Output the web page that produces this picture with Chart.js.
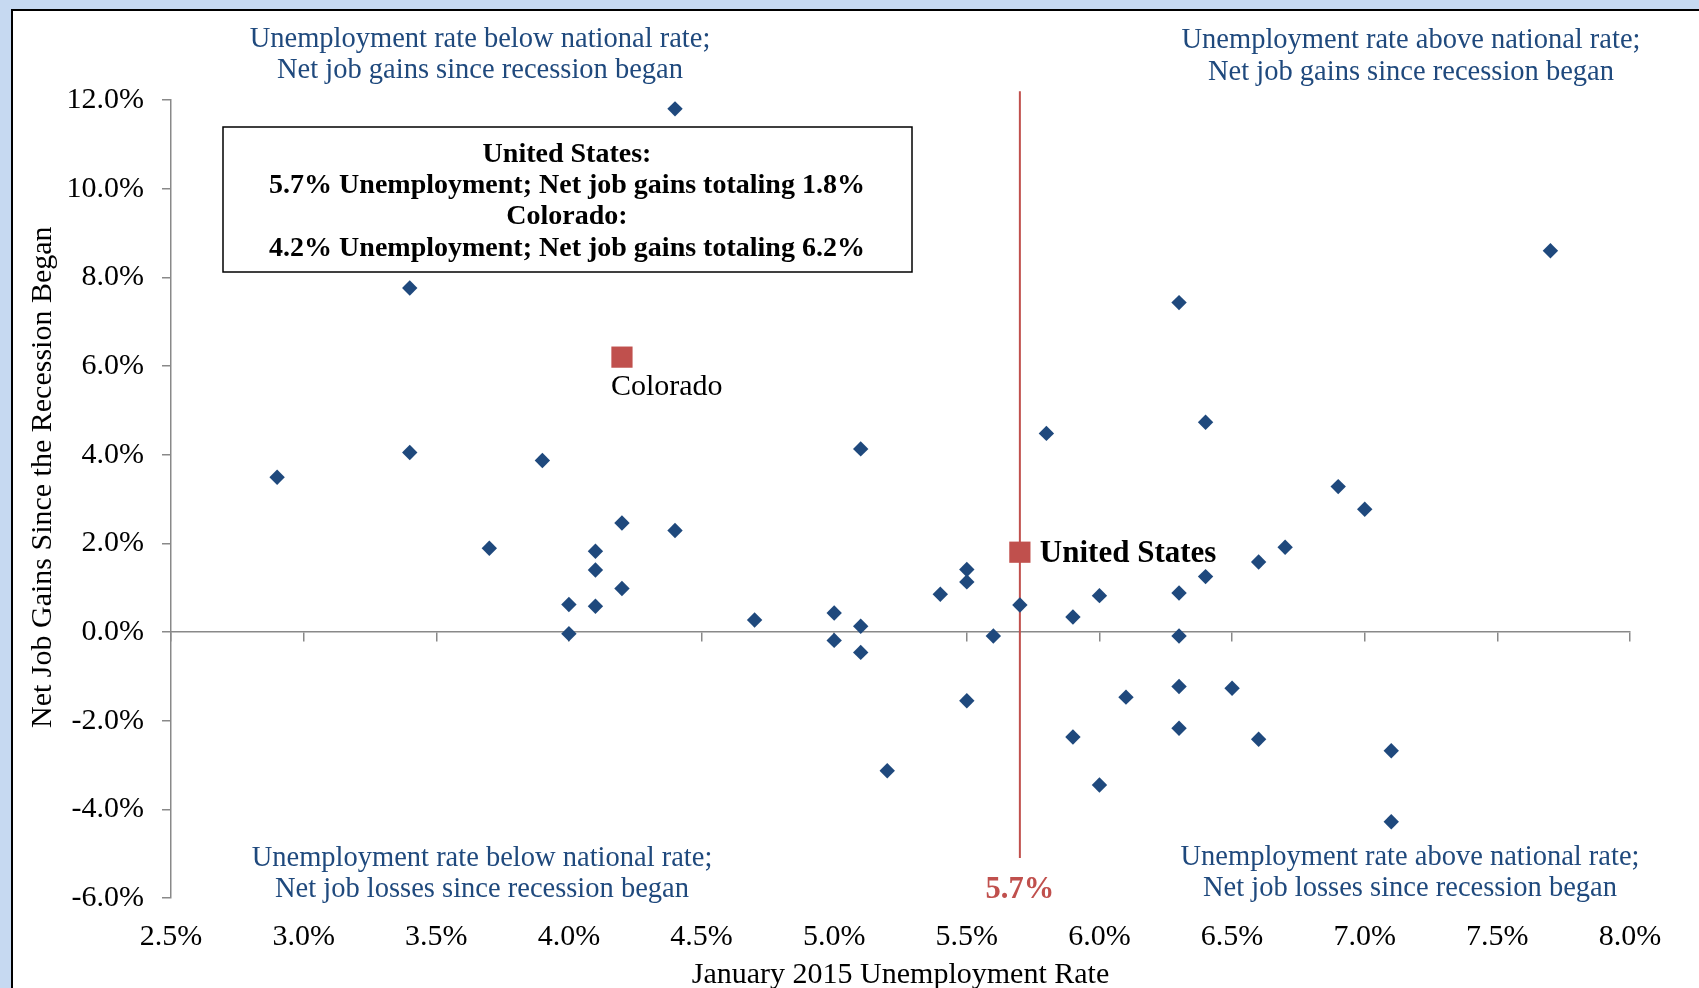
<!DOCTYPE html>
<html>
<head>
<meta charset="utf-8">
<script src="https://cdn.jsdelivr.net/npm/chart.js@4.4.1/dist/chart.umd.min.js"></script>
<style>
  html, body { margin: 0; padding: 0; width: 1699px; height: 988px; overflow: hidden; background: #c6d9f1; }
  #panel { position: absolute; left: 11px; top: 9px; width: 1700px; height: 990px; background: #ffffff;
           border-left: 2px solid #000000; border-top: 2px solid #000000; }
  #chart { position: absolute; left: 0; top: 0; }
</style>
</head>
<body>
<div id="panel"></div>
<canvas id="chart" width="1699" height="988"></canvas>
<script>
// January 2015 unemployment rate (%) and net job change since the recession began (%), by state
const stateUnemployment = [4.4, 7.7, 3.4, 6.3, 6.4, 5.8, 5.1, 3.4, 3.9, 2.9, 6.9, 7.0, 4.2, 4.4, 3.7, 6.7, 4.1,
                           6.6, 4.1, 5.5, 6.4, 5.5, 4.2, 6.3, 5.4, 6.0, 4.0, 4.1, 5.7, 5.0, 5.9, 4.7, 5.1, 4.0,
                           5.6, 6.3, 5.0, 5.1, 6.1, 6.3, 6.5, 5.5, 6.3, 5.9, 6.6, 7.1, 5.2, 6.0, 7.1];
const stateJobGains = [11.8, 8.6, 7.76, 7.43, 4.73, 4.48, 4.13, 4.05, 3.87, 3.49, 3.28, 2.77, 2.46, 2.29, 1.89,
                       1.91, 1.82, 1.58, 1.40, 1.41, 1.25, 1.13, 0.98, 0.88, 0.85, 0.82, 0.62, 0.58, 0.61, 0.43,
                       0.34, 0.27, 0.13, -0.04, -0.09, -0.09, -0.19, -0.46, -1.47, -1.23, -1.27, -1.55, -2.17,
                       -2.37, -2.42, -2.68, -3.13, -3.45, -4.28];

// Highlighted points: [unemployment, job gains]
const unitedStates = [5.7, 1.8];
const colorado = [4.2, 6.2];

// National-rate reference line: extent on the job-gains axis
const nationalLineSpan = [12.2, -5.1];

// Axis ranges and tick spacing
const xRange = [2.5, 8.0];
const xStep = 0.5;
const yRange = [-6.0, 12.0];
const yStep = 2.0;

const BLUE = '#1f497d';
const RED = '#c0504d';
const AXIS_GRAY = '#898989';
const SERIF = "'Liberation Serif', 'Times New Roman', serif";

const pct = v => Number(v).toFixed(1) + '%';

const quadrantNotes = [
  { lines: ['Unemployment rate below national rate;', 'Net job gains since recession began'], x: 480, y: [47, 78] },
  { lines: ['Unemployment rate above national rate;', 'Net job gains since recession began'], x: 1411, y: [48, 80] },
  { lines: ['Unemployment rate below national rate;', 'Net job losses since recession began'], x: 482, y: [866, 897] },
  { lines: ['Unemployment rate above national rate;', 'Net job losses since recession began'], x: 1410, y: [865, 896] }
];

const summaryLines = [
  'United States:',
  pct(unitedStates[0]) + ' Unemployment; Net job gains totaling ' + pct(unitedStates[1]),
  'Colorado:',
  pct(colorado[0]) + ' Unemployment; Net job gains totaling ' + pct(colorado[1])
];

// Text annotations: quadrant notes, summary box and point labels
const annotationPlugin = {
  id: 'annotations',
  afterDraw(chart) {
    const { ctx, scales } = chart;
    const x = scales.x, y = scales.y;
    ctx.save();
    ctx.textBaseline = 'alphabetic';

    ctx.fillStyle = BLUE;
    ctx.textAlign = 'center';
    ctx.font = '28.5px ' + SERIF;
    quadrantNotes.forEach(n => n.lines.forEach((t, i) => ctx.fillText(t, n.x, n.y[i])));

    // summary box
    ctx.fillStyle = '#ffffff';
    ctx.fillRect(223, 127, 689, 145);
    ctx.strokeStyle = '#000000';
    ctx.lineWidth = 1.5;
    ctx.strokeRect(223, 127, 689, 145);
    ctx.fillStyle = '#000000';
    ctx.font = 'bold 28px ' + SERIF;
    const boxBase = [162, 193, 224, 256];
    summaryLines.forEach((t, i) => ctx.fillText(t, 567, boxBase[i]));

    // point labels
    const usX = x.getPixelForValue(unitedStates[0]);
    const usY = y.getPixelForValue(unitedStates[1]);
    ctx.textAlign = 'left';
    ctx.font = 'bold 31px ' + SERIF;
    ctx.fillText('United States', usX + 20, usY + 10);

    const coX = x.getPixelForValue(colorado[0]);
    const coY = y.getPixelForValue(colorado[1]);
    ctx.font = '30px ' + SERIF;
    ctx.fillText('Colorado', coX - 11, coY + 38);

    ctx.textAlign = 'center';
    ctx.fillStyle = RED;
    ctx.font = 'bold 30.5px ' + SERIF;
    ctx.fillText(pct(unitedStates[0]), usX, 898);
    ctx.restore();
  }
};

new Chart(document.getElementById('chart'), {
  type: 'scatter',
  data: {
    datasets: [
      {
        label: 'National rate',
        type: 'line',
        data: nationalLineSpan.map(v => ({ x: unitedStates[0], y: v })),
        borderColor: RED,
        borderWidth: 2,
        pointRadius: 0,
        clip: false,
        order: 3
      },
      {
        label: 'States',
        data: stateUnemployment.map((u, i) => ({ x: u, y: stateJobGains[i] })),
        pointStyle: 'rectRot',
        pointRadius: 7.7,
        pointHoverRadius: 7.7,
        backgroundColor: BLUE,
        borderColor: BLUE,
        borderWidth: 0,
        order: 2
      },
      {
        label: 'United States / Colorado',
        data: [{ x: unitedStates[0], y: unitedStates[1] }, { x: colorado[0], y: colorado[1] }],
        pointStyle: 'rect',
        pointRadius: 15,
        pointHoverRadius: 15,
        backgroundColor: RED,
        borderColor: RED,
        borderWidth: 0,
        order: 1
      }
    ]
  },
  options: {
    responsive: false,
    devicePixelRatio: 1,
    animation: false,
    events: [],
    layout: { padding: { top: 100, right: 69, left: 0, bottom: 0 } },
    plugins: { legend: { display: false }, tooltip: { enabled: false } },
    scales: {
      x: {
        type: 'linear',
        position: 'bottom',
        min: xRange[0], max: xRange[1],
        grid: { display: false },
        border: { display: false },
        ticks: {
          stepSize: xStep,
          padding: 13,
          color: '#000000',
          font: { family: SERIF, size: 30 },
          callback: v => pct(v)
        },
        title: {
          display: true,
          text: 'January 2015 Unemployment Rate',
          color: '#000000',
          font: { family: SERIF, size: 30, lineHeight: 0.8 },
          padding: { top: 0, bottom: 1 }
        },
        afterFit(scale) { scale.height = 90; scale.paddingLeft = 0; scale.paddingRight = 0; }
      },
      xZero: {
        type: 'linear',
        axis: 'x',
        position: { y: 0 },
        min: xRange[0], max: xRange[1],
        grid: { drawOnChartArea: false, drawTicks: true, tickLength: 9, color: AXIS_GRAY, lineWidth: 1.5 },
        border: { display: true, color: AXIS_GRAY, width: 1.5 },
        ticks: { stepSize: xStep, display: false },
        afterFit(scale) { scale.paddingLeft = 0; scale.paddingRight = 0; }
      },
      y: {
        type: 'linear',
        position: 'left',
        min: yRange[0], max: yRange[1],
        grid: { drawOnChartArea: false, drawTicks: true, tickLength: 9, color: AXIS_GRAY, lineWidth: 1.5 },
        border: { display: true, color: AXIS_GRAY, width: 1.5 },
        ticks: {
          stepSize: yStep,
          padding: 18,
          color: '#000000',
          font: { family: SERIF, size: 30 },
          callback: v => pct(v)
        },
        title: {
          display: true,
          text: '\u00a0\u00a0\u00a0\u00a0\u00a0\u2009Net Job Gains Since the Recession Began',
          color: '#000000',
          font: { family: SERIF, size: 30 },
          padding: { top: 25, bottom: 0 }
        },
        afterFit(scale) { scale.width = 171; scale.paddingTop = 0; scale.paddingBottom = 0; }
      }
    }
  },
  plugins: [annotationPlugin]
});
</script>
</body>
</html>
